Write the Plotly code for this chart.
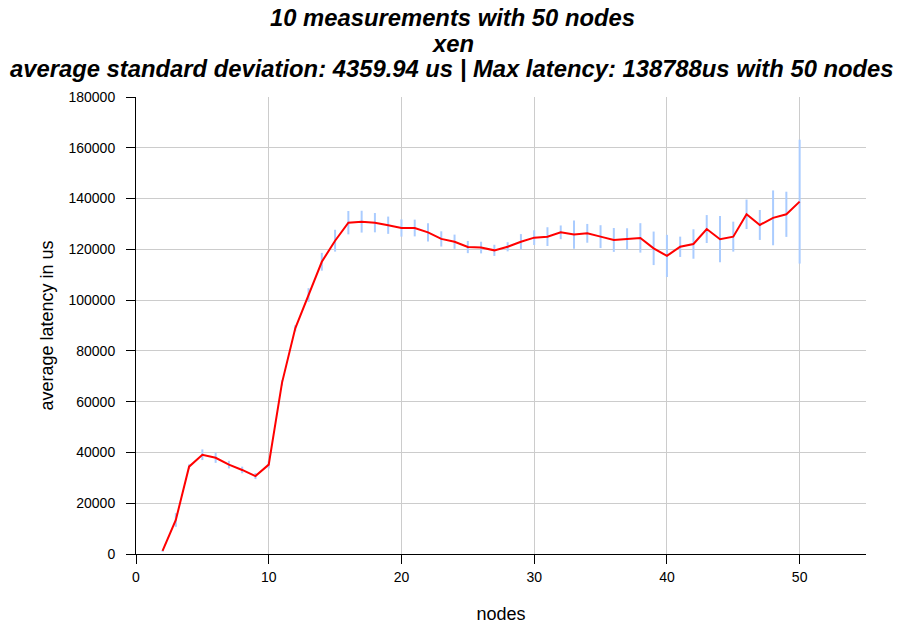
import plotly.graph_objects as go

nodes = list(range(2, 51))
latency = [1200, 13400, 34400, 39100, 37900, 35200, 33100, 30700, 35200,
           67400, 88900, 102000, 115100, 123400, 130500, 130900, 130500, 129500, 128400,
           128400, 126700, 124100, 123000, 120900, 120700, 119600, 121000, 123000, 124600,
           125000, 126700, 125800, 126300, 125000, 123700, 124100, 124500, 120400, 117400,
           121000, 122100, 128000, 124000, 125000, 133800, 129600, 132400, 133800, 138788]
stddev = [300, 2700, 900, 2100, 2000, 1500, 1300, 1200, 1500,
          1000, 1200, 2700, 3500, 4300, 4600, 4300, 3800, 3400, 3400,
          3300, 3600, 3000, 2800, 2400, 2300, 2200, 1800, 3000, 2900,
          3700, 2700, 5600, 3700, 4500, 4700, 4200, 5800, 6600, 8300,
          4000, 5800, 5500, 9100, 5900, 5800, 5900, 10800, 8900, 24400]

title_lines = ["10 measurements with 50 nodes", "xen",
               "average standard deviation: 4359.94 us | Max latency: 138788us with 50 nodes"]

font_family = "Liberation Sans, Arial, sans-serif"

# plot area geometry (pixels)
W, H = 902, 627
ML, MR, MT, MB = 136, 36, 97, 73
plot_w = W - ML - MR
plot_h = H - MT - MB

fig = go.Figure()
fig.add_trace(go.Scatter(
    x=nodes, y=latency, mode="lines",
    line=dict(color="#ff0000", width=2),
    error_y=dict(type="data", array=stddev, visible=True,
                 color="#aaccff", thickness=2, width=0),
    showlegend=False,
))

title_centers_px = [17.5, 43, 68.5]
for text, py in zip(title_lines, title_centers_px):
    fig.add_annotation(
        text="<b><i>" + text + "</i></b>",
        xref="paper", yref="paper",
        x=(W / 2 + 1 - ML) / plot_w, y=(H - MB - py) / plot_h,
        xanchor="center", yanchor="middle", showarrow=False,
        font=dict(size=23.8, family=font_family, color="black"),
    )

fig.update_layout(
    width=W, height=H,
    margin=dict(l=ML, r=MR, t=MT, b=MB, autoexpand=False),
    paper_bgcolor="white", plot_bgcolor="white",
    font=dict(family=font_family, color="black"),
    xaxis=dict(
        range=[0, 55], tickvals=[0, 10, 20, 30, 40, 50],
        showgrid=True, gridcolor="#cccccc", gridwidth=1,
        showline=True, linecolor="black", linewidth=1,
        ticks="outside", ticklen=9, tickcolor="black",
        tickfont=dict(size=14, color="black"), zeroline=False,
        ticklabelstandoff=1, automargin=False,
        title=dict(text="nodes", font=dict(size=18, color="black"), standoff=23),
    ),
    yaxis=dict(
        range=[0, 180000], dtick=20000,
        showgrid=True, gridcolor="#cccccc", gridwidth=1,
        showline=True, linecolor="black", linewidth=1,
        ticks="outside", ticklen=9, tickcolor="black",
        tickfont=dict(size=14, color="black"), zeroline=False, tickformat="d",
        ticklabelstandoff=8, automargin=False,
        title=dict(text="average latency in us", font=dict(size=18, color="black"), standoff=10),
    ),
)

fig.write_html("out.html")
